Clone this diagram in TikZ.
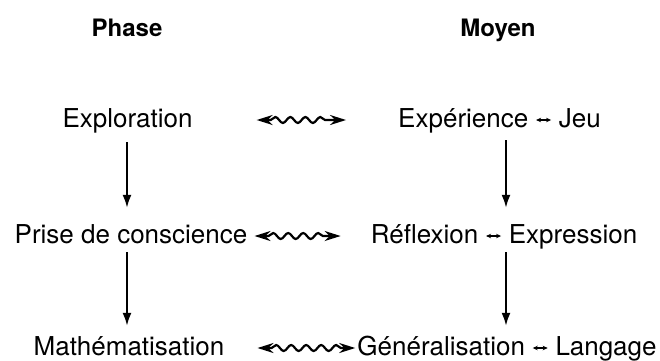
\documentclass[tikz,border=0pt]{standalone}
\usepackage{fontspec}
\setmainfont{TeX Gyre Heros}
\usetikzlibrary{arrows.meta, calc, decorations.pathmorphing}

% small double arrow inside the labels
\newcommand{\lrarrow}{\tikz[x=1pt,y=1pt,baseline=-7pt]\draw[line width=1.1pt,{Stealth[length=5pt,width=4.5pt]}-{Stealth[length=5pt,width=4.5pt]}] (0,0) -- (15,0);}

\begin{document}
\begin{tikzpicture}[x=1pt, y=-1pt,
  txt/.style={font=\fontsize{26}{30}\selectfont, inner sep=0pt, anchor=base, text height=19pt, text depth=5pt},
  head/.style={font=\fontsize{24}{28}\selectfont\bfseries, inner sep=0pt, anchor=base},
  down/.style={line width=1.9pt, -{Latex[length=13pt,width=9pt]}},
  wave/.style={line width=2.2pt, {Stealth[length=16pt,width=10pt]}-{Stealth[length=16pt,width=10pt]},
    decorate, decoration={snake, amplitude=3pt, segment length=15pt, pre length=14pt, post length=14pt}}]
  \useasboundingbox (0,0) rectangle (660,360);

  % headers
  \node[head] (phase) at (127,36) {Phase};
  \node[head] (moyen) at (498,36) {Moyen};

  % phases
  \node[txt] (explo) at (127.5,127) {Exploration};
  \node[txt] (prise) at (131,243) {Prise de conscience};
  \node[txt] (mathe) at (129,355) {Mathématisation};

  % moyens
  \node[txt] (exper) at (499.5,127) {Expérience \lrarrow{} Jeu};
  \node[txt] (refle) at (504,243) {Réflexion \lrarrow{} Expression};
  \node[txt] (gener) at (507,355) {Généralisation \lrarrow{} Langage};

  % columns
  \coordinate (colL) at (127,0);
  \coordinate (colR) at (506,0);

  % vertical arrows
  \draw[down, shorten <=10pt, shorten >=16pt] (explo.south -| colL) -- (prise.north -| colL);
  \draw[down, shorten <=4pt, shorten >=10pt] (prise.south -| colL) -- (mathe.north -| colL);
  \draw[down, shorten <=8pt, shorten >=16pt] (exper.south -| colR) -- (refle.north -| colR);
  \draw[down, shorten <=4pt, shorten >=10pt] (refle.south -| colR) -- (gener.north -| colR);

  % wavy links
  \draw[wave] ($(explo.base east)+(64,-7)$) -- ($(exper.base west)+(-52,-7)$);
  \draw[wave] ($(prise.base east)+(7,-7)$) -- ($(refle.base west)+(-30,-7)$);
  \draw[wave] ($(mathe.base east)+(33,-7)$) -- ($(gener.base west)+(-2,-7)$);
\end{tikzpicture}
\end{document}
